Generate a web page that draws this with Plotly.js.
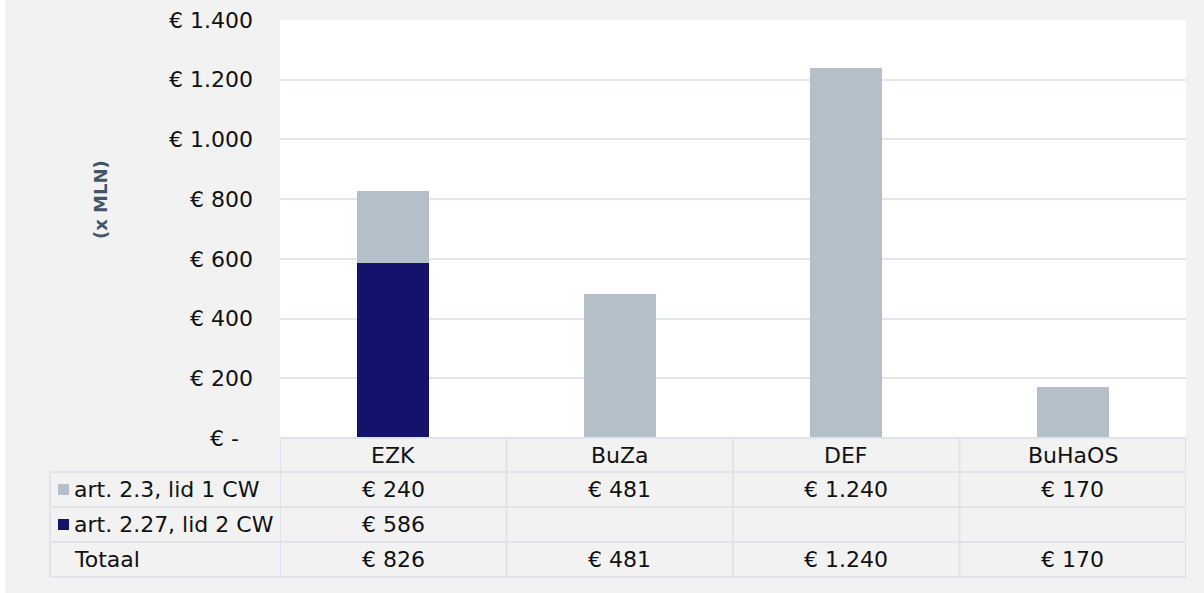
<!DOCTYPE html>
<html>
<head>
<meta charset="utf-8">
<script src="https://cdn.plot.ly/plotly-3.0.1.min.js"></script>
<style>html,body{margin:0;padding:0;background:#fff;}#chart{width:1204px;height:593px;}</style>
</head>
<body>
<div id="chart"></div>
<script>
// ---- data ----
const categories = ['EZK', 'BuZa', 'DEF', 'BuHaOS'];
const seriesNames = ['art. 2.3, lid 1 CW', 'art. 2.27, lid 2 CW'];
const art23 = [240, 481, 1240, 170];
const art227 = [586, null, null, null];
const totalLabel = 'Totaal';
const yTickVals = [0, 200, 400, 600, 800, 1000, 1200, 1400];
const yTickText = ['€ -\u00a0\u00a0', '€ 200', '€ 400', '€ 600', '€ 800', '€ 1.000', '€ 1.200', '€ 1.400'];
const yTitle = '(x MLN)';

// ---- styling ----
const W = 1204, H = 593;
const M = {l: 280, r: 18, t: 20, b: 155};
const plotW = W - M.l - M.r, plotH = H - M.t - M.b;
const colGrey = '#b5bfc9', colNavy = '#13136b';
const lineCol = '#dfe4eb';
const font = 'DejaVu Sans, Verdana, sans-serif';
const fs = 22;

function px2x(px) { return (px - M.l) / plotW; }
function py2y(py) { return (H - M.b - py) / plotH; }
function fmtEuro(v) {
  if (v === null || v === undefined) return '';
  return '€ ' + v.toString().replace(/\B(?=(\d{3})+(?!\d))/g, '.');
}
const totals = categories.map((c, i) => (art23[i] || 0) + (art227[i] || 0));

const traces = [
  {type: 'bar', name: seriesNames[1], x: categories, y: art227, marker: {color: colNavy}, hoverinfo: 'x+y'},
  {type: 'bar', name: seriesNames[0], x: categories, y: art23, marker: {color: colGrey}, hoverinfo: 'x+y'}
];

// table geometry (pixel rows)
const rowLines = [438, 472, 507, 542, 577];
const rowCenters = [455, 489.5, 524.5, 559.5];
const leftX = px2x(50);

const shapes = [];
const annotations = [];
// white strip at left
shapes.push({type: 'rect', xref: 'paper', yref: 'paper', x0: px2x(0), x1: px2x(5), y0: py2y(0), y1: py2y(H), fillcolor: '#ffffff', line: {width: 0}, layer: 'below'});
// horizontal lines
shapes.push({type: 'line', xref: 'paper', yref: 'paper', x0: 0, x1: 1, y0: py2y(rowLines[0]), y1: py2y(rowLines[0]), line: {color: lineCol, width: 2}});
for (let k = 1; k < rowLines.length; k++) {
  shapes.push({type: 'line', xref: 'paper', yref: 'paper', x0: leftX, x1: 1, y0: py2y(rowLines[k]), y1: py2y(rowLines[k]), line: {color: lineCol, width: 2}});
}
// vertical lines at category boundaries
for (let i = 0; i <= categories.length; i++) {
  shapes.push({type: 'line', xref: 'x', yref: 'paper', x0: i - 0.5, x1: i - 0.5, y0: py2y(rowLines[0]), y1: py2y(rowLines[4]), line: {color: lineCol, width: 2}});
}
shapes.push({type: 'line', xref: 'paper', yref: 'paper', x0: leftX, x1: leftX, y0: py2y(rowLines[1]), y1: py2y(rowLines[4]), line: {color: lineCol, width: 2}});

// legend keys
const keyColors = [colGrey, colNavy];
for (let r = 0; r < 2; r++) {
  const c = rowCenters[r + 1];
  shapes.push({type: 'rect', xref: 'paper', yref: 'paper', x0: px2x(58), x1: px2x(69), y0: py2y(c + 5.5), y1: py2y(c - 5.5), fillcolor: keyColors[r], line: {width: 0}});
}
// row labels
const rowLabels = [seriesNames[0], seriesNames[1], totalLabel];
rowLabels.forEach((t, r) => {
  annotations.push({xref: 'paper', yref: 'paper', x: px2x(72), y: py2y(rowCenters[r + 1]), xanchor: 'left', yanchor: 'middle', text: t, showarrow: false, font: {family: font, size: fs, color: '#111'}});
});
// header + values
const rowsData = [art23, art227, totals];
categories.forEach((cat, i) => {
  annotations.push({xref: 'x', yref: 'paper', x: cat, y: py2y(rowCenters[0]), xanchor: 'center', yanchor: 'middle', text: cat, showarrow: false, font: {family: font, size: fs, color: '#111'}});
  rowsData.forEach((arr, r) => {
    annotations.push({xref: 'x', yref: 'paper', x: cat, y: py2y(rowCenters[r + 1]), xanchor: 'center', yanchor: 'middle', text: fmtEuro(arr[i]), showarrow: false, font: {family: font, size: fs, color: '#111'}});
  });
});
// y title
annotations.push({xref: 'paper', yref: 'paper', x: px2x(100), y: py2y(200), xanchor: 'center', yanchor: 'middle', textangle: -90, text: '<b>' + yTitle + '</b>', showarrow: false, font: {family: font, size: 18, color: '#44546a'}});

const layout = {
  width: W, height: H,
  margin: M,
  paper_bgcolor: '#f2f2f2',
  plot_bgcolor: '#ffffff',
  barmode: 'stack',
  bargap: 0.68,
  showlegend: false,
  font: {family: font, size: fs, color: '#111'},
  xaxis: {type: 'category', range: [-0.5, 3.5], showticklabels: false, showgrid: false, zeroline: false, ticks: '', fixedrange: true},
  yaxis: {range: [0, 1400], tickvals: yTickVals, ticktext: yTickText, showgrid: true, gridcolor: '#e2e6ed', gridwidth: 2, zeroline: false, ticks: '', ticklabelstandoff: 26, tickfont: {family: font, size: fs, color: '#111'}, fixedrange: true},
  shapes: shapes,
  annotations: annotations
};

Plotly.newPlot('chart', traces, layout, {displayModeBar: false, staticPlot: true});
</script>
</body>
</html>
